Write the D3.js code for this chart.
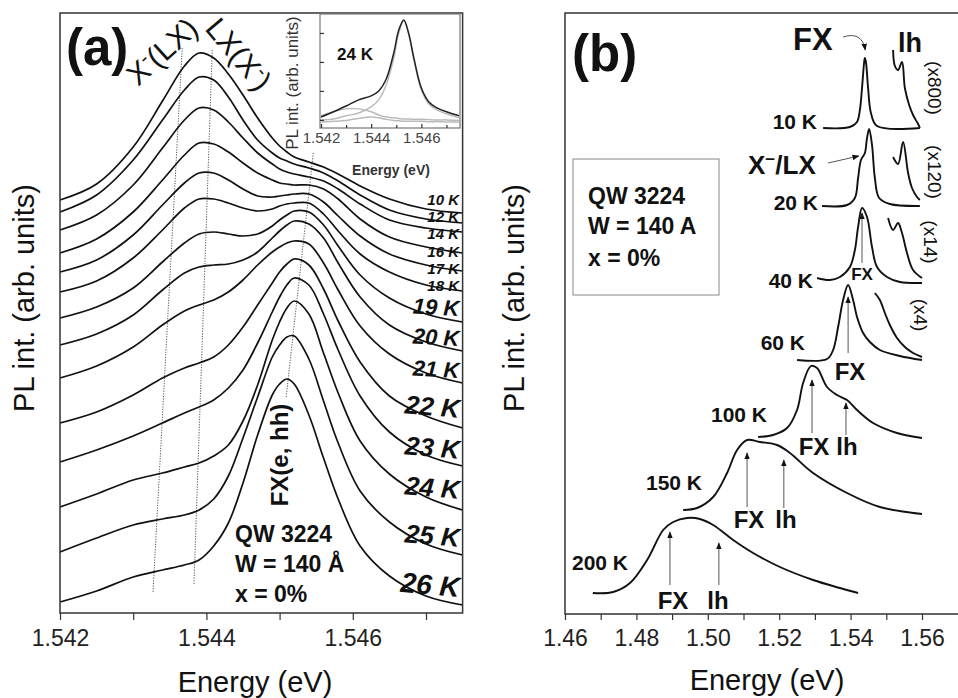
<!DOCTYPE html>
<html lang="en">
<head>
<meta charset="utf-8">
<title>PL spectra QW 3224</title>
<script src="https://cdn.jsdelivr.net/npm/d3@7"></script>
<style>
  body { margin: 0; background: #fff; }
  svg { font-family: "Liberation Sans", Arial, Helvetica, sans-serif; }
</style>
</head>
<body>
<svg id="chart" width="958" height="698"></svg>
<script>
// ---------- panel (a): spectra 10-26 K on a shared energy grid (eV) ----------
const energyA = [1.5420, 1.5425, 1.5430, 1.5434, 1.5437, 1.5439, 1.5441, 1.5443, 1.5445, 1.5447,
                 1.5449, 1.5450, 1.5451, 1.5452, 1.5454, 1.5456, 1.5458, 1.5461, 1.5465, 1.5470, 1.5475];
const tempsA = ["10 K", "12 K", "14 K", "16 K", "17 K", "18 K", "19 K", "20 K", "21 K", "22 K", "23 K", "24 K", "25 K", "26 K"];
const pl10K = [41.3, 42.9, 46.6, 51.2, 54.7, 56.0, 55.5, 53.9, 51.8, 49.5, 47.5, 46.7, 46.1, 45.6, 45.1, 44.6, 43.9, 42.7, 41.4, 40.4, 40.0];
const pl12K = [40.1, 41.8, 45.3, 49.3, 52.3, 53.6, 53.3, 51.6, 49.3, 47.3, 46.0, 45.5, 45.2, 44.9, 44.5, 44.0, 43.2, 41.8, 40.3, 39.4, 39.0];
const pl14K = [38.3, 39.8, 42.8, 46.5, 49.3, 50.5, 50.3, 49.1, 47.5, 46.0, 44.9, 44.4, 44.1, 43.9, 43.6, 43.2, 42.4, 40.9, 39.3, 38.5, 38.1];
const pl16K = [36.0, 37.4, 40.1, 43.3, 45.8, 47.0, 46.9, 46.1, 45.0, 44.0, 43.3, 43.0, 42.9, 42.8, 42.8, 42.4, 41.4, 39.4, 37.6, 36.6, 36.0];
const pl17K = [34.1, 35.3, 37.8, 40.8, 43.0, 44.0, 44.0, 43.3, 42.4, 41.7, 41.6, 41.7, 41.8, 41.9, 41.9, 41.1, 39.7, 37.7, 35.9, 34.8, 34.2];
const pl18K = [32.1, 33.2, 35.5, 38.3, 40.5, 41.4, 41.4, 41.0, 40.5, 40.2, 40.4, 40.7, 40.9, 41.0, 41.0, 39.9, 38.2, 35.9, 34.1, 32.8, 32.2];
const pl19K = [29.5, 30.6, 32.5, 35.1, 37.0, 37.9, 38.1, 37.9, 37.7, 37.9, 38.7, 39.3, 39.8, 40.2, 40.1, 38.8, 36.7, 33.8, 31.5, 29.9, 29.1];
const pl20K = [26.8, 27.9, 29.8, 32.3, 34.0, 34.6, 34.8, 34.9, 35.3, 36.1, 37.5, 38.2, 38.8, 39.2, 38.9, 37.5, 35.0, 31.6, 28.8, 27.1, 26.2];
const pl21K = [23.5, 24.7, 26.6, 28.8, 30.2, 30.8, 31.3, 32.1, 33.3, 34.8, 36.1, 36.6, 37.0, 37.2, 36.9, 35.0, 32.3, 28.7, 25.9, 24.0, 23.0];
const pl22K = [19.0, 20.1, 21.8, 23.5, 24.5, 25.0, 25.6, 26.8, 28.6, 30.8, 33.0, 34.1, 34.9, 35.4, 34.8, 32.4, 29.2, 25.1, 21.7, 19.7, 18.5];
const pl23K = [15.1, 16.3, 17.7, 19.0, 20.0, 20.6, 21.3, 22.5, 24.3, 27.0, 30.1, 31.6, 32.8, 33.5, 32.8, 29.9, 26.3, 21.7, 18.1, 15.8, 14.7];
const pl24K = [10.6, 11.9, 13.3, 14.0, 14.6, 15.0, 15.7, 16.8, 19.2, 22.8, 27.3, 29.1, 30.5, 31.2, 29.9, 26.0, 22.0, 17.2, 13.9, 11.6, 10.3];
const pl25K = [6.1, 7.5, 8.8, 9.4, 9.8, 10.3, 11.4, 13.7, 17.5, 21.6, 25.6, 26.8, 27.6, 27.7, 25.4, 21.2, 17.0, 12.2, 9.1, 6.9, 5.8];
const pl26K = [1.1, 2.2, 3.6, 4.3, 4.8, 5.3, 6.7, 9.0, 13.0, 17.8, 21.8, 22.9, 23.4, 22.9, 19.8, 15.5, 11.4, 6.7, 3.7, 1.7, 0.8];
const seriesA = [pl10K, pl12K, pl14K, pl16K, pl17K, pl18K, pl19K, pl20K, pl21K, pl22K, pl23K, pl24K, pl25K, pl26K];

// dotted guide lines (energy, intensity) pairs
const guideLX = [[1.54367, 56.5], [1.54327, 2.0]];
const guideXm = [[1.54408, 56.3], [1.54383, 2.9]];
const guideFX = [[1.54546, 46.0], [1.54509, 21.6]];
const majorTicksA = [1.542, 1.544, 1.546];
const minorTicksA = [1.543, 1.545, 1.547];

// inset: 24 K fit
const energyI = [1.5420, 1.5425, 1.5430, 1.5435, 1.5440, 1.5443, 1.5446, 1.5449, 1.5451, 1.5453,
                 1.5455, 1.5457, 1.5460, 1.5463, 1.5467, 1.5470, 1.5475];
const fitTotal = [0.10, 0.28, 0.48, 0.69, 0.83, 1.00, 1.41, 2.31, 3.10, 3.45, 2.97, 2.14, 1.10, 0.62, 0.38, 0.28, 0.14];
const fitFX    = [0.00, 0.03, 0.14, 0.24, 0.45, 0.69, 1.21, 2.14, 3.00, 3.41, 2.93, 2.07, 1.03, 0.55, 0.31, 0.21, 0.07];
const fitXm    = [0.14, 0.28, 0.38, 0.38, 0.28, 0.17, 0.10, 0.07, 0.05, 0.03, 0.03, 0.02, 0.02, 0.01, 0.00, 0.00, -0.02];
const fitLX    = [-0.07, -0.05, -0.02, 0.05, 0.10, 0.07, 0.02, -0.02, -0.03, -0.05, -0.05, -0.05, -0.05, -0.06, -0.06, -0.07, -0.07];
const ticksI = [1.542, 1.544, 1.546];
const minorTicksI = [1.543, 1.545, 1.547];

// ---------- panel (b): spectra 10-200 K, [energy, intensity] ----------
const b200K = [[1.4678, 2.1], [1.4735, 2.2], [1.4782, 3.1], [1.4830, 5.4], [1.4875, 8.4], [1.4903, 9.2], [1.4942, 9.6], [1.4978, 9.5],
               [1.5015, 8.9], [1.5071, 7.4], [1.5127, 6.1], [1.5202, 4.7], [1.5295, 3.4], [1.5370, 2.6], [1.5421, 2.1]];
const b150K = [[1.4931, 10.4], [1.4970, 10.6], [1.5015, 11.7], [1.5054, 14.1], [1.5082, 16.4], [1.5110, 17.4], [1.5146, 17.2],
               [1.5194, 16.9], [1.5230, 16.1], [1.5295, 14.1], [1.5390, 12.1], [1.5482, 10.7], [1.5600, 10.0]];
const b100K = [[1.5141, 17.7], [1.5183, 17.9], [1.5222, 18.6], [1.5250, 20.4], [1.5267, 23.1], [1.5289, 24.8], [1.5306, 24.6],
               [1.5334, 22.7], [1.5362, 21.9], [1.5390, 21.4], [1.5418, 20.4], [1.5463, 19.1], [1.5530, 18.1], [1.5600, 17.6]];
const b60K = [[1.5250, 25.4], [1.5334, 25.5], [1.5351, 26.4], [1.5365, 28.7], [1.5379, 31.4], [1.5393, 32.9], [1.5407, 31.4],
              [1.5418, 29.7], [1.5435, 28.1], [1.5454, 27.2], [1.5482, 26.4], [1.5538, 25.8], [1.5600, 25.4]];
const b60Kx4 = [[1.5468, 32.1], [1.5482, 31.4], [1.5496, 30.1], [1.5510, 28.9], [1.5530, 27.6], [1.5552, 26.7], [1.5575, 26.1], [1.5600, 25.7]];
const b40K = [[1.5306, 33.6], [1.5342, 33.4], [1.5370, 33.7], [1.5398, 34.7], [1.5412, 36.4], [1.5421, 38.7], [1.5432, 40.6],
              [1.5446, 39.7], [1.5460, 36.7], [1.5474, 34.7], [1.5502, 33.7], [1.5538, 33.2], [1.5600, 33.1]];
const b40Kx14 = [[1.5505, 39.6], [1.5519, 38.4], [1.5533, 39.1], [1.5544, 38.1], [1.5558, 36.1], [1.5575, 34.4], [1.5600, 33.6]];
const b20K = [[1.5320, 40.8], [1.5390, 40.9], [1.5412, 41.6], [1.5421, 43.6], [1.5429, 45.4], [1.5440, 46.1], [1.5446, 47.6],
              [1.5452, 48.5], [1.5460, 46.9], [1.5468, 43.6], [1.5480, 41.6], [1.5510, 41.0], [1.5594, 40.8]];
const b20Kx120 = [[1.5519, 45.7], [1.5533, 45.0], [1.5547, 47.2], [1.5561, 44.1], [1.5572, 42.6], [1.5586, 41.7], [1.5594, 41.4]];
const b10K = [[1.5323, 48.6], [1.5398, 48.7], [1.5418, 49.2], [1.5426, 50.4], [1.5432, 52.6], [1.5438, 55.2], [1.5440, 55.6],
              [1.5443, 55.2], [1.5449, 52.6], [1.5457, 50.1], [1.5474, 48.8], [1.5594, 48.6]];
const b10Kx800 = [[1.5519, 56.4], [1.5524, 54.8], [1.5533, 54.4], [1.5544, 55.2], [1.5552, 52.6], [1.5564, 50.9], [1.5575, 49.9],
                  [1.5589, 49.0], [1.5594, 48.6]];
const seriesB = [b200K, b150K, b100K, b60K, b60Kx4, b40K, b40Kx14, b20K, b20Kx120, b10K, b10Kx800];
const tempsB = ["200 K", "150 K", "100 K", "60 K", "40 K", "20 K", "10 K"];
const factorsB = ["(x800)", "(x120)", "(x14)", "(x4)"];
const ticksB = [1.46, 1.48, 1.50, 1.52, 1.54, 1.56];
const minorTicksB = [1.47, 1.49, 1.51, 1.53, 1.55];
// arrows: energy, from intensity, to intensity, label
const arrowsB = [
  [1.4894, 2.9, 8.2, "FX"], [1.5031, 2.9, 7.1, "lh"],
  [1.5110, 10.7, 16.1, "FX"], [1.5213, 10.6, 15.4, "lh"],
  [1.5292, 18.1, 23.4, "FX"], [1.5387, 17.9, 21.1, "lh"],
  [1.5393, 26.1, 31.7, "FX"], [1.5432, 35.1, 40.1, "FX"]
];

const svg = d3.select("#chart");
const ink = "#111";

const xA = d3.scaleLinear().domain([1.542, 1.5475]).range([60, 462.6]);
const yA = d3.scaleLinear().domain([0, 60]).range([613, 13]);
const xI = d3.scaleLinear().domain([1.542, 1.5475]).range([321, 459]);
const yI = d3.scaleLinear().domain([-0.28, 3.62]).range([128, 15]);
const xB = d3.scaleLinear().domain([1.46, 1.57]).range([565, 957.7]);
const yB = d3.scaleLinear().domain([0, 60]).range([614, 14]);

const defs = svg.append("defs");
defs.append("marker").attr("id", "arr").attr("viewBox", "0 0 10 10")
  .attr("refX", 9).attr("refY", 5).attr("markerWidth", 7).attr("markerHeight", 7)
  .attr("orient", "auto")
  .append("path").attr("d", "M0,1L10,5L0,9Z").attr("fill", ink);

function styleAxis(g, size) {
  g.select(".domain").remove();
  g.selectAll(".tick line").attr("stroke", "#333").attr("stroke-width", 1.2);
  g.selectAll("text").attr("font-size", size).attr("fill", "#222")
    .attr("font-family", '"Liberation Sans", Arial, sans-serif');
}

function label(x, y, txt, size, opts = {}) {
  const t = svg.append("text").attr("x", x).attr("y", y).text(txt)
    .attr("font-size", size).attr("fill", ink)
    .attr("font-weight", opts.bold ? "bold" : "normal")
    .attr("text-anchor", opts.anchor || "start");
  if (opts.italic) t.attr("font-style", "italic");
  if (opts.rot) t.attr("transform", `rotate(${opts.rot},${x},${y})`);
  if (opts.dy) t.attr("dy", opts.dy);
  return t;
}

// ================= panel (a) =================
const lineA = d3.line().x((d, i) => xA(energyA[i])).y(d => yA(d)).curve(d3.curveCatmullRom.alpha(0.5));

svg.append("g").selectAll("path.guide").data([guideLX, guideXm, guideFX]).join("path")
  .attr("class", "guide")
  .attr("d", d3.line().x(d => xA(d[0])).y(d => yA(d[1])))
  .attr("fill", "none").attr("stroke", "#555").attr("stroke-width", 1)
  .attr("stroke-dasharray", "1.2,1.4");

svg.append("g").selectAll("path.specA").data(seriesA).join("path")
  .attr("class", "specA")
  .attr("d", lineA)
  .attr("fill", "none").attr("stroke", ink).attr("stroke-width", 1.7);

svg.append("rect").attr("x", xA.range()[0]).attr("y", yA.range()[1])
  .attr("width", xA.range()[1] - xA.range()[0]).attr("height", yA.range()[0] - yA.range()[1])
  .attr("fill", "none").attr("stroke", "#333").attr("stroke-width", 1.5);

const axA = svg.append("g").attr("transform", `translate(0,${yA.range()[0]})`)
  .call(d3.axisBottom(xA).tickValues(majorTicksA).tickSize(7).tickPadding(10).tickFormat(d3.format(".3f")));
styleAxis(axA, 23);
const axAm = svg.append("g").attr("transform", `translate(0,${yA.range()[0]})`)
  .call(d3.axisBottom(xA).tickValues(minorTicksA).tickSize(7).tickFormat(""));
styleAxis(axAm, 23);

label(255, 692, "Energy (eV)", 29, { anchor: "middle" });
label(34, 298, "PL int. (arb. units)", 29, { anchor: "middle", rot: -90 });
label(66, 65, "(a)", 51, { bold: true });

// peak labels
const tXm = label(138, 87, "X", 30, { rot: -42 });
tXm.append("tspan").attr("baseline-shift", "super").attr("font-size", 20).text("-");
tXm.append("tspan").text("(LX)");
const tLX = label(204, 29, "LX(X", 30, { rot: 50 });
tLX.append("tspan").attr("baseline-shift", "super").attr("font-size", 20).text("-");
tLX.append("tspan").text(")");
label(288, 455, "FX(e, hh)", 24, { bold: true, anchor: "middle", rot: -90 });
label(235, 542, "QW 3224", 23, { bold: true });
label(235, 572, "W = 140 Å", 23, { bold: true });
label(235, 602, "x = 0%", 23, { bold: true });

// temperature labels at the right end of each curve
const labelBaseA = [205, 222, 239, 257, 274, 291, 316, 346, 378, 418, 459, 499, 547, 597];
tempsA.forEach((t, i) => {
  const fs = i < 6 ? 15 : (i < 9 ? 22 : (i === 13 ? 28 : 26));
  const rot = i < 6 ? 0 : (i < 9 ? 3 : 5);
  label(459, labelBaseA[i], t, fs, { bold: true, italic: true, anchor: "end", rot: rot });
});

// ---- inset ----
svg.append("rect").attr("x", 320).attr("y", 14).attr("width", 140).attr("height", 114)
  .attr("fill", "#fff").attr("stroke", "#777").attr("stroke-width", 1.2);
const lineI = d3.line().x((d, i) => xI(energyI[i])).y(d => yI(d)).curve(d3.curveCatmullRom.alpha(0.5));
svg.append("g").selectAll("path.fit").data([fitLX, fitXm, fitFX]).join("path")
  .attr("class", "fit").attr("d", lineI)
  .attr("fill", "none").attr("stroke", "#bbb").attr("stroke-width", 1.5);
svg.append("path").datum(fitTotal).attr("d", lineI)
  .attr("fill", "none").attr("stroke", "#222").attr("stroke-width", 1.5);
const axI = svg.append("g").attr("transform", "translate(0,128)")
  .call(d3.axisBottom(xI).tickValues(ticksI).tickSize(-4).tickPadding(4).tickFormat(d3.format(".3f")));
styleAxis(axI, 15);
axI.selectAll("text").attr("fill", "#444");
const axIm = svg.append("g").attr("transform", "translate(0,128)")
  .call(d3.axisBottom(xI).tickValues(minorTicksI).tickSize(-3).tickFormat(""));
styleAxis(axIm, 15);
const axIy = svg.append("g").attr("transform", "translate(320,0)")
  .call(d3.axisRight(yI).tickValues([0, 1, 2, 3]).tickSize(4).tickFormat(""));
styleAxis(axIy, 12);
label(391, 175, "Energy (eV)", 14, { bold: true, anchor: "middle" }).attr("fill", "#333");
label(298, 83, "PL int. (arb. units)", 17, { anchor: "middle", rot: -90 }).attr("fill", "#333");
label(337, 60, "24 K", 17, { bold: true });

// ================= panel (b) =================
const lineB = d3.line().x(d => xB(d[0])).y(d => yB(d[1])).curve(d3.curveCatmullRom.alpha(0.5));
svg.append("g").selectAll("path.specB").data(seriesB).join("path")
  .attr("class", "specB").attr("d", lineB)
  .attr("fill", "none").attr("stroke", ink).attr("stroke-width", 1.9);

// frame: left, top, bottom
const bx0 = xB.range()[0], bx1 = 958;
svg.append("path").attr("d", `M${bx1},${yB.range()[1] - 1}H${bx0}V${yB.range()[0]}H${bx1}`)
  .attr("fill", "none").attr("stroke", "#333").attr("stroke-width", 1.5);

const axB = svg.append("g").attr("transform", `translate(0,${yB.range()[0]})`)
  .call(d3.axisBottom(xB).tickValues(ticksB).tickSize(6).tickPadding(10).tickFormat(d3.format(".2f")));
styleAxis(axB, 23);
const axBm = svg.append("g").attr("transform", `translate(0,${yB.range()[0]})`)
  .call(d3.axisBottom(xB).tickValues(minorTicksB).tickSize(6).tickFormat(""));
styleAxis(axBm, 23);

label(767, 690, "Energy (eV)", 29, { anchor: "middle" });
label(524, 298, "PL int. (arb. units)", 29, { anchor: "middle", rot: -90 });
label(572, 71, "(b)", 51, { bold: true });

// info box
svg.append("rect").attr("x", 573).attr("y", 159).attr("width", 146).attr("height", 136)
  .attr("fill", "none").attr("stroke", "#888").attr("stroke-width", 1);
label(588, 204, "QW 3224", 23, { bold: true });
label(588, 234, "W = 140 A", 23, { bold: true });
label(588, 266, "x = 0%", 23, { bold: true });

// temperature labels (right edge, baseline)
const labelPosB = [[628, 570], [702, 490], [767, 422], [805, 350], [813, 288], [818, 210], [817, 129]];
tempsB.forEach((t, i) => {
  label(labelPosB[i][0], labelPosB[i][1], t, 21, { bold: true, anchor: "end" });
});

// vertical arrows + labels
arrowsB.forEach(a => {
  svg.append("line").attr("x1", xB(a[0])).attr("x2", xB(a[0]))
    .attr("y1", yB(a[1])).attr("y2", yB(a[2]))
    .attr("stroke", "#555").attr("stroke-width", 1).attr("marker-end", "url(#arr)");
});
// label centre x, baseline, size
const arrowLabelPos = [[673, 609, 24], [718, 609, 24], [749, 528, 24], [786, 528, 24],
                       [814, 455, 24], [847, 455, 24], [850, 380, 24], [862, 280, 17]];
arrowsB.forEach((a, k) => {
  const p = arrowLabelPos[k];
  label(p[0], p[1], a[3], p[2], { bold: true, anchor: "middle" });
});

// top annotations
label(793, 50, "FX", 31, { bold: true });
label(898, 52, "lh", 27, { bold: true });
svg.append("path")
  .attr("d", `M${xB(1.5379)},${yB(57.7)} Q${xB(1.5432)},${yB(58.3)} ${xB(1.5441)},${yB(56.4)}`)
  .attr("fill", "none").attr("stroke", "#555").attr("stroke-width", 1).attr("marker-end", "url(#arr)");
const tX = label(748, 174, "X", 26, { bold: true });
tX.append("tspan").attr("baseline-shift", "super").attr("font-size", 17).text("−");
tX.append("tspan").text("/LX");
svg.append("line").attr("x1", xB(1.5337)).attr("x2", xB(1.5423))
  .attr("y1", yB(45.1)).attr("y2", yB(45.8))
  .attr("stroke", "#555").attr("stroke-width", 1).attr("marker-end", "url(#arr)");

// scale factors, rotated
const factorPos = [[935, 88], [935, 172], [931, 242], [921, 315]];
factorsB.forEach((f, i) => {
  label(factorPos[i][0], factorPos[i][1], f, 19, { anchor: "middle", rot: 90, dy: "0.35em" });
});
</script>
</body>
</html>
